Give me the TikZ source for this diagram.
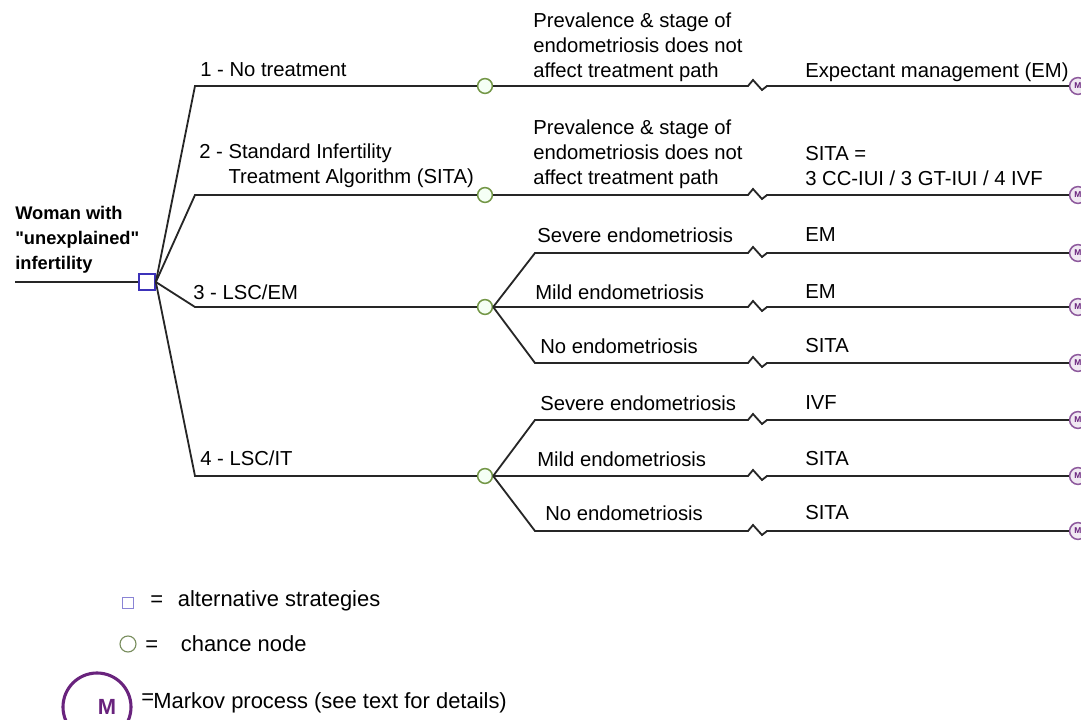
\documentclass[tikz,border=0pt]{standalone}
\usepackage{fontspec}
\setmainfont{Liberation Sans}
\definecolor{decblue}{RGB}{60,50,185}
\definecolor{chgreen}{RGB}{115,150,70}
\definecolor{mkpurple}{RGB}{105,35,125}
\newcommand{\sq}{\XeTeXglyph\XeTeXglyphindex "quotedbl"\relax}
\begin{document}
\begin{tikzpicture}[x=0.025cm, y=-0.025cm,
  every node/.style={font=\fontsize{14.4}{17.7}\selectfont, inner sep=0pt},
  lbl/.style={anchor=west, align=left},
  lgd/.style={anchor=west, font=\fontsize{15.6}{18}\selectfont},
  branch/.style={line width=1.3pt, black!85},
  decnode/.style={draw=decblue, line width=1.2pt, fill=white, minimum size=0.4cm},
  chnode/.style={circle, draw=chgreen, line width=1.1pt, fill=green!4, minimum size=0.37cm},
  mknode/.style={circle, draw=mkpurple!75, line width=1.1pt, fill=mkpurple!10, minimum size=0.42cm, font=\fontsize{6}{6}\selectfont\bfseries, text=mkpurple}]
\useasboundingbox (0,0) rectangle (1081,720);
\node[decnode] (dec) at (147,282) {};
\coordinate (root) at (15,282);
\draw[branch] (root) -- (dec);
\foreach \i/\y in {1/86, 2/195, 3/307, 4/476} {
  \coordinate (b\i) at (195,\y);
  \node[chnode] (c\i) at (485,\y) {};
  \draw[branch] (dec.east) -- (b\i) -- (c\i);
}
\foreach \r/\kx/\y in {1/500/86, 2/500/195, 3a/535/253, 3b/500/307, 3c/535/363, 4a/535/420, 4b/500/476, 4c/535/531} {
  \coordinate (k\r) at (\kx,\y);
  \coordinate (z\r) at (748,\y);
  \node[mknode] (m\r) at (1078,\y) {M};
}
\foreach \c/\r in {1/1, 2/2, 3/3a, 3/3b, 3/3c, 4/4a, 4/4b, 4/4c}
  \draw[branch] (c\c.east) -- (k\r) -- (z\r) -- ++(5,-6) -- ++(9,10) -- ++(5,-4) -- (m\r);
\node[lbl, font=\fontsize{13}{17.7}\selectfont\bfseries] (woman) at (15,240) {Woman with\\\sq unexplained\sq\\infertility};
\node[lbl] (t1) at (200,70) {1 - No treatment};
\node[lbl] (t2) at (199,166) {2 - Standard Infertility\\\phantom{2 - }Treatment Algorithm (SITA)};
\node[lbl] (t3) at (193,292) {3 - LSC/EM};
\node[lbl] (t4) at (200,458) {4 - LSC/IT};
\node[lbl] (p1) at (533,47) {Prevalence \& stage of\\endometriosis does not\\affect treatment path};
\node[lbl] (p2) at (533,154) {Prevalence \& stage of\\endometriosis does not\\affect treatment path};
\node[lbl] (s3a) at (537,235) {Severe endometriosis};
\node[lbl] (s3b) at (535,292) {Mild endometriosis};
\node[lbl] (s3c) at (540,346) {No endometriosis};
\node[lbl] (s4a) at (540,403) {Severe endometriosis};
\node[lbl] (s4b) at (537,459) {Mild endometriosis};
\node[lbl] (s4c) at (545,513) {No endometriosis};
\node[lbl] (e1) at (805,72) {Expectant management (EM)};
\node[lbl] (e2) at (805,166) {SITA =\\3 CC-IUI / 3 GT-IUI / 4 IVF};
\node[lbl] (e3a) at (805,235) {EM};
\node[lbl] (e3b) at (805,292) {EM};
\node[lbl] (e3c) at (805,346) {SITA};
\node[lbl] (e4a) at (805,403) {IVF};
\node[lbl] (e4b) at (805,459) {SITA};
\node[lbl] (e4c) at (805,513) {SITA};
\node[draw=decblue!60, line width=0.6pt, minimum size=0.26cm] (lgdec) at (128,603) {};
\node[lgd] (lgdectxt) at (150,601) {=\hspace{0.37cm}alternative strategies};
\node[circle, draw=chgreen!60!gray, line width=0.8pt, minimum size=0.4cm] (lgch) at (128,644) {};
\node[lgd] (lgchtxt) at (145,644) {=\hspace{0.57cm}chance node};
\node[circle, draw=mkpurple, line width=2.2pt, minimum size=1.7cm] (lgmk) at (97,707) {};
\node[font=\fontsize{15.6}{18}\selectfont\bfseries, text=mkpurple] (lgm) at (107,707) {M};
\node[lgd] (eq3) at (141,699) {=};
\node[lgd] (lgmktxt) at (153,703) {Markov process (see text for details)};
\end{tikzpicture}
\end{document}
